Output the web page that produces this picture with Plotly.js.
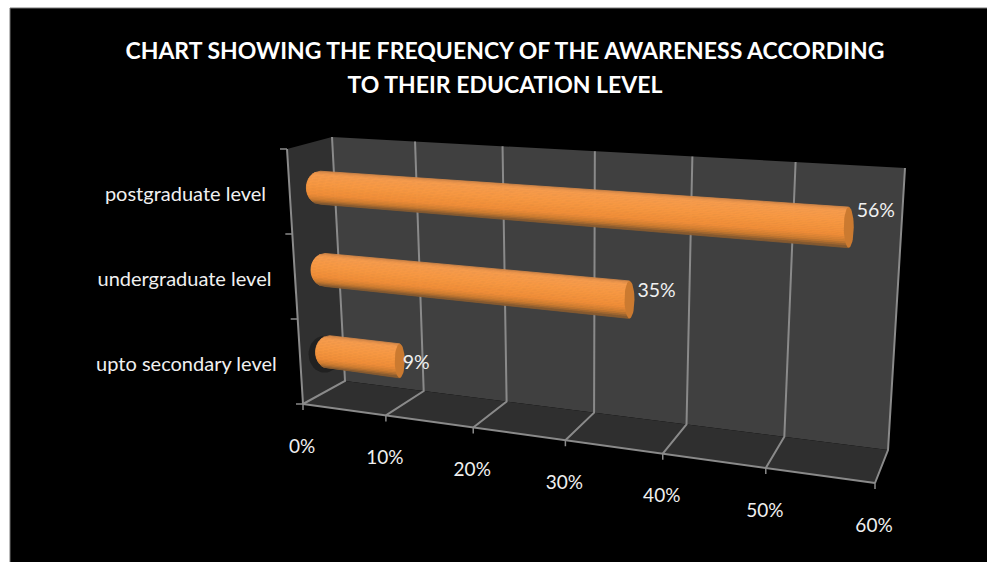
<!DOCTYPE html>
<html><head><meta charset="utf-8">
<script src="https://cdn.plot.ly/plotly-3.0.1.min.js"></script>
<style>html,body{margin:0;padding:0;background:#fff}</style></head>
<body><div id="chart" style="width:987px;height:562px"></div>
<script>
const titleLines = ["CHART SHOWING THE FREQUENCY OF THE AWARENESS ACCORDING", "TO THEIR EDUCATION LEVEL"];
const categories = ["postgraduate level", "undergraduate level", "upto secondary level"];
const values = [56, 35, 9];
const xTicks = [0, 10, 20, 30, 40, 50, 60];

const FONT = "Lato, 'Noto Sans', sans-serif";
const AXIS_MAX = 60;
// 3D box corners of the reference's perspective view (front/back, bottom/top, left/right)
const C = {
  fbl:[303,404], bbl:[345,381], btl:[332,137], ftl:[287,149],
  fbr:[875,483], bbr:[888,450], btr:[905,168], ftr:[892,201]
};
const mix = (a,b,t)=>[a[0]+(b[0]-a[0])*t, a[1]+(b[1]-a[1])*t];
const persp = v=>{const s=v/AXIS_MAX; return s/(s+1.18*(1-s));};
// Project (value, height 0..1, depth 0..1) on to the chart's axes
function P(v,h,d){
  const f=persp(v);
  const fb=mix(C.fbl,C.fbr,f), bb=mix(C.bbl,C.bbr,f), bt=mix(C.btl,C.btr,f), ft=mix(C.ftl,C.ftr,f);
  return mix(mix(fb,bb,d),mix(ft,bt,d),h);
}
const traces=[];
function poly(pts,color){
  traces.push({type:'scatter',mode:'lines',x:pts.map(p=>p[0]).concat(pts[0][0]),y:pts.map(p=>p[1]).concat(pts[0][1]),
    fill:'toself',fillcolor:color,line:{width:0},hoverinfo:'skip',showlegend:false});
}
function line(pts,color,w){
  traces.push({type:'scatter',mode:'lines',x:pts.map(p=>p[0]),y:pts.map(p=>p[1]),
    line:{color:color,width:w},hoverinfo:'skip',showlegend:false});
}
// walls
poly([P(0,0,0),P(0,1,0),P(0,1,1),P(0,0,1)],'#303030');
poly([P(0,0,1),P(0,1,1),P(AXIS_MAX,1,1),P(AXIS_MAX,0,1)],'#404040');
poly([P(0,0,0),P(0,0,1),P(AXIS_MAX,0,1),P(AXIS_MAX,0,0)],'#2f2f2f');
// gridlines
const GRID='#8a8a8a';
xTicks.forEach(t=>{
  line([P(t,0,0),P(t,0,1),P(t,1,1)],GRID,2);
  const p=P(t,0,0); line([p,[p[0],p[1]+6]],GRID,1.5);
});
line([P(0,0,0),P(AXIS_MAX,0,0)],GRID,2);
line([P(0,0,0),P(0,1,0)],GRID,2);
[0,1,2,3].forEach(k=>{const p=P(0,k/3,0); line([p,[p[0]-7,p[1]]],GRID,1.5);});

// cylinders
const rowH = categories.map((c,i)=>(categories.length-1-i+0.42)/categories.length);
const DEPTH=0.75, R0=16.5, E0=14, E1=5, N=22;
const stops=[[-1,[205,130,70]],[-0.82,[246,156,78]],[-0.2,[247,152,66]],[0.4,[240,142,56]],[0.72,[205,124,48]],[1,[120,84,48]]];
function shade(a){
  for(let i=1;i<stops.length;i++){ if(a<=stops[i][0]){
    const t=(a-stops[i-1][0])/(stops[i][0]-stops[i-1][0]), A=stops[i-1][1], B=stops[i][1];
    return 'rgb('+A.map((c,j)=>Math.round(c+(B[j]-c)*t)).join(',')+')';
  }}
  return 'rgb(120,84,48)';
}
// soft shadow the lowest cylinder throws on the left wall
{
  const i=values.length-1, c0=P(0,rowH[i],DEPTH), pts=[];
  for(let t=0;t<40;t++){const th=t/40*2*Math.PI; pts.push([c0[0]-8+16*Math.cos(th),c0[1]+2+R0*1.12*Math.sin(th)]);}
  poly(pts,'rgba(18,18,18,0.5)');
}
for(let k=0;k<N;k++){
  const a0=-1+2*k/N, a1=-1+2*(k+1)/N, xs=[], ys=[];
  values.forEach((v,i)=>{
    const c0=P(0,rowH[i],DEPTH), c1=P(v,rowH[i],DEPTH), r1=R0*(1+0.25*persp(v));
    const cx0=c0[0]-3, cx1=c1[0]-5;
    const q=[[cx0-E0*Math.sqrt(1-a0*a0),c0[1]+a0*R0],[cx1,c1[1]+a0*r1],[cx1,c1[1]+a1*r1],[cx0-E0*Math.sqrt(1-a1*a1),c0[1]+a1*R0]];
    q.concat([q[0]]).forEach(p=>{xs.push(p[0]);ys.push(p[1]);});
    xs.push(null);ys.push(null);
  });
  const col=shade((a0+a1)/2);
  traces.push({type:'scatter',mode:'lines',x:xs,y:ys,fill:'toself',fillcolor:col,line:{color:col,width:0.8},hoverinfo:'skip',showlegend:false});
}
values.forEach((v,i)=>{
  const c1=P(v,rowH[i],DEPTH), r1=R0*(1+0.25*persp(v)), pts=[];
  for(let t=0;t<40;t++){const th=t/40*2*Math.PI; pts.push([c1[0]-5+E1*Math.cos(th),c1[1]+r1*Math.sin(th)]);}
  poly(pts,'#cb7a30');
});
// text
function text(xs,ys,labels,pos,size,color){
  traces.push({type:'scatter',mode:'text',x:xs,y:ys,text:labels,textposition:pos,
    textfont:{family:FONT,size:size,color:color},hoverinfo:'skip',showlegend:false,cliponaxis:false});
}
const TXT='#f0f0f0';
const catPts=rowH.map(h=>P(0,h,0));
text(catPts.map(p=>p[0]-24),catPts.map(p=>p[1]-2.5),categories,'middle left',20,TXT);
const tickPts=xTicks.map(t=>P(t,0,0));
text(tickPts.map(p=>p[0]-1),tickPts.map(p=>p[1]+44),xTicks.map(t=>t+'%'),'middle center',19,TXT);
const valDx=[3,3,-2], valDy=[-15,-8,3];
const valPts=values.map((v,i)=>P(v,rowH[i],DEPTH));
text(valPts.map((p,i)=>p[0]+valDx[i]),valPts.map((p,i)=>p[1]+valDy[i]),values.map(v=>v+'%'),'middle right',19.5,TXT);

const titleText=titleLines.map(t=>'<span style="font-size:23px">'+t+'</span>').join('<br>');
const layout={
  width:987,height:562,paper_bgcolor:'#ffffff',plot_bgcolor:'#000000',
  margin:{l:10,r:0,t:8,b:0},showlegend:false,
  title:{text:titleText,x:500/987,xanchor:'center',xref:'paper',y:1-52/562,yanchor:'top',yref:'paper',
    font:{family:FONT,size:26,color:'#ffffff',weight:700}},
  xaxis:{range:[10,987],visible:false,fixedrange:true},
  yaxis:{range:[562,8],visible:false,fixedrange:true},
  shapes:[
    {type:'line',xref:'paper',yref:'paper',x0:0,x1:0,y0:0,y1:1,line:{color:'#777777',width:1}},
    {type:'line',xref:'paper',yref:'paper',x0:0,x1:1,y0:1,y1:1,line:{color:'#777777',width:1}}
  ]
};
Plotly.newPlot('chart',traces,layout,{displayModeBar:false,staticPlot:true});
</script></body></html>
